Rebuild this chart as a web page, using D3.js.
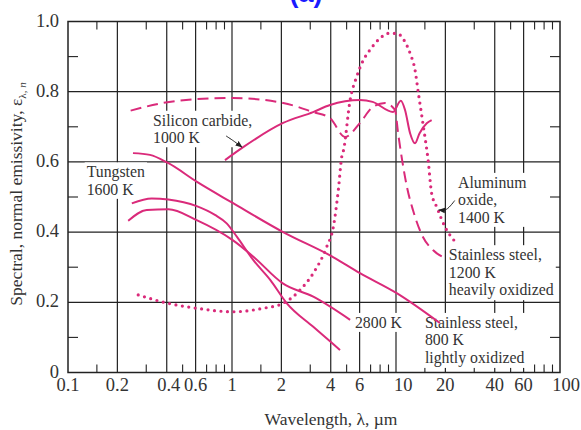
<!DOCTYPE html>
<html><head><meta charset="utf-8">
<script src="https://cdn.jsdelivr.net/npm/d3@7"></script>
<style>html,body{margin:0;padding:0;background:#fff;}svg{display:block;}</style>
</head><body>
<svg id="c" width="581" height="430"></svg>
<script>
// ---- data (wavelength in µm, spectral normal emissivity) ----
const ss800Lambda = [0.249,0.316,0.407,0.612,1.01,2.05,4.13,6.03,10.1,18.5];
const ss800Eps    = [0.625,0.62,0.597,0.543,0.483,0.40,0.329,0.283,0.226,0.141];

const w1600Lambda = [0.245,0.324,0.409,0.609,0.787,0.928,1.07,1.35,1.71,2.16,3.13,4.56];
const w1600Eps    = [0.482,0.496,0.493,0.474,0.449,0.425,0.387,0.32,0.264,0.197,0.13,0.064];

const w2800Lambda = [0.233,0.302,0.409,0.609,1.01,1.35,2.04,3.13,5.25];
const w2800Eps    = [0.432,0.463,0.465,0.434,0.377,0.33,0.254,0.216,0.15];

const sicLambda = [0.906,1.17,2.05,3.12,3.96,6.03,7.2,9.59,10.7,11.35,12.2,13.06,13.9,15.4,16.5];
const sicEps    = [0.605,0.642,0.711,0.742,0.762,0.776,0.771,0.742,0.774,0.748,0.681,0.653,0.681,0.71,0.719];

const ss1200Lambda = [0.241,0.38,0.609,1.01,2.05,3.12,3.96,4.89,6.03,7.2,8.57,9.86,10.3,10.9,11.67,12.7,14.6,16.8,19.9];
const ss1200Eps    = [0.746,0.768,0.779,0.782,0.768,0.742,0.725,0.671,0.711,0.756,0.768,0.748,0.682,0.605,0.528,0.462,0.386,0.349,0.326];

const al2o3Lambda = [0.268,0.409,0.609,1.01,1.55,2.05,2.6,3.13,3.78,4.15,4.45,4.67,4.79,5.25,5.76,6.32,6.94,7.98,8.97,10.1,11.35,12.2,13.06,13.7,14.7,15.7,16.5,17.7,19.9,22.9];
const al2o3Eps    = [0.221,0.197,0.183,0.173,0.183,0.197,0.235,0.283,0.358,0.415,0.52,0.615,0.634,0.776,0.843,0.89,0.919,0.952,0.966,0.966,0.942,0.909,0.862,0.795,0.70,0.605,0.51,0.472,0.415,0.373];

const xMajorTicks = [0.2,0.4,0.6,1,2,4,6,10,20,40,60];
const xMinorTicks = [0.15,0.3,0.5,0.7,0.8,0.9,1.5,3,5,7,8,9,15,30,50,70,80,90];
const xTickLabels = [0.1,0.2,0.4,0.6,1,2,4,6,10,20,40,60,100];
const yMajorTicks = [0.2,0.4,0.6,0.8];
const yMinorTicks = [0.1,0.3,0.5,0.7,0.9];
const yTickLabels = [0,0.2,0.4,0.6,0.8,1.0];

// ---- layout ----
const svg = d3.select("#c");
const L=68, R=560, T=21.5, B=372.5;
const x = d3.scaleLog().domain([0.1,100]).range([L,R]);
const y = d3.scaleLinear().domain([0,1]).range([B,T]);
const ink = "#222";
const col = "#da2a7a";
const serif = "'Liberation Serif','Times New Roman',serif";

const g = svg.append("g");
// grid
g.selectAll(".vx").data(xMajorTicks).join("line")
  .attr("x1",d=>x(d)).attr("x2",d=>x(d)).attr("y1",T).attr("y2",B)
  .attr("stroke",ink).attr("stroke-width",1.2);
g.selectAll(".hy").data(yMajorTicks).join("line")
  .attr("x1",L).attr("x2",R).attr("y1",d=>y(d)).attr("y2",d=>y(d))
  .attr("stroke",ink).attr("stroke-width",1.2);
// minor ticks
[[T,8],[B,-8]].forEach(([yy,len])=>{
  g.append("g").selectAll("line").data(xMinorTicks).join("line")
   .attr("x1",d=>x(d)).attr("x2",d=>x(d)).attr("y1",yy).attr("y2",yy+len)
   .attr("stroke",ink).attr("stroke-width",1.1);
});
g.append("g").selectAll("line").data(yMinorTicks).join("line")
  .attr("x1",L).attr("x2",L+10).attr("y1",d=>y(d)).attr("y2",d=>y(d))
  .attr("stroke",ink).attr("stroke-width",1.1);
g.append("g").selectAll("line").data(yMinorTicks).join("line")
  .attr("x1",R).attr("x2",R-10).attr("y1",d=>y(d)).attr("y2",d=>y(d))
  .attr("stroke",ink).attr("stroke-width",1.1);
// frame
g.append("rect").attr("x",L).attr("y",T).attr("width",R-L).attr("height",B-T)
  .attr("fill","none").attr("stroke",ink).attr("stroke-width",1.5);

// tick labels
svg.append("g").selectAll("text").data(xTickLabels).join("text")
  .attr("x",d=>d===100?566:x(d)).attr("y",391)
  .attr("text-anchor",d=>d===10?"start":"middle")
  .attr("dx",d=>d===10?-2:(d===0.4?2:0))
  .attr("font-family",serif).attr("font-size",18.5).attr("fill","#333")
  .text(d=>String(d));
svg.append("g").selectAll("text").data(yTickLabels).join("text")
  .attr("x",59).attr("y",d=>y(d)+5)
  .attr("text-anchor","end")
  .attr("font-family",serif).attr("font-size",18.5).attr("fill","#333")
  .text(d=>d===0?"0":d.toFixed(1));

// axis titles
svg.append("text").attr("x",331).attr("y",425).attr("text-anchor","middle")
  .attr("font-family",serif).attr("font-size",17.5).attr("fill","#333")
  .text("Wavelength, λ, µm");
const yt = svg.append("text").attr("transform","translate(22,194) rotate(-90)")
  .attr("text-anchor","middle").attr("font-family",serif).attr("font-size",17.5).attr("fill","#333");
yt.append("tspan").text("Spectral, normal emissivity, ε");
yt.append("tspan").attr("font-size",11).attr("dy",4).text("λ, ");
yt.append("tspan").attr("font-size",11).attr("font-style","italic").text("n");

// panel mark (cut at top edge as in the source)
svg.append("text").attr("x",306).attr("y",2).attr("text-anchor","middle")
  .attr("font-family","'Liberation Sans',Arial,sans-serif").attr("font-weight","bold")
  .attr("font-size",27).attr("fill","#1a1aff").text("(a)");

// labels with white knockouts
const labels = [
  {lam:0.33, e:0.703, lines:["Silicon carbide,","1000 K"]},
  {lam:0.13, e:0.556, lines:["Tungsten","1600 K"]},
  {lam:23.9, e:0.526, lines:["Aluminum","oxide,","1400 K"]},
  {lam:21.0, e:0.32, lines:["Stainless steel,","1200 K","heavily oxidized"]},
  {lam:5.62, e:0.127, lines:["2800 K"]},
  {lam:15.0, e:0.127, lines:["Stainless steel,","800 K","lightly oxidized"]}
];
const lg = svg.append("g");
labels.forEach(lb=>{
  const grp = lg.append("g");
  const t = grp.append("text").attr("font-family",serif).attr("font-size",15.8).attr("fill","#333");
  lb.lines.forEach((s,i)=>{
    t.append("tspan").attr("x",x(lb.lam)).attr("y",y(lb.e)+i*17.5).text(s);
  });
  const bb = t.node().getBBox();
  grp.insert("rect","text").attr("x",bb.x-2).attr("y",bb.y-1).attr("width",bb.width+4).attr("height",bb.height+2).attr("fill","#fff");
});

// curves
const line = d3.line().x(d=>x(d[0])).y(d=>y(d[1])).curve(d3.curveMonotoneX);
const zip = (a,b)=>a.map((v,i)=>[v,b[i]]);
const cg = svg.append("g").attr("fill","none").attr("stroke",col).attr("stroke-width",2);
cg.append("path").attr("d",line(zip(ss800Lambda,ss800Eps)));
cg.append("path").attr("d",line(zip(w1600Lambda,w1600Eps)));
cg.append("path").attr("d",line(zip(w2800Lambda,w2800Eps)));
cg.append("path").attr("d",line(zip(sicLambda,sicEps)));
cg.append("path").attr("d",line(zip(ss1200Lambda,ss1200Eps))).attr("stroke-dasharray","11,6");
cg.append("path").attr("d",line(zip(al2o3Lambda,al2o3Eps))).attr("stroke-dasharray","0,6.5").attr("stroke-linecap","round").attr("stroke-width",3.2);

// annotation arrows
svg.append("defs").append("marker").attr("id","ah").attr("viewBox","0 0 10 10")
  .attr("refX",9).attr("refY",5).attr("markerWidth",7).attr("markerHeight",7).attr("orient","auto")
  .append("path").attr("d","M0,1 L10,5 L0,9 Z").attr("fill","#222");
const arrowLine = d3.line().x(d=>x(d[0])).y(d=>y(d[1])).curve(d3.curveCatmullRom);
svg.append("path").attr("d",arrowLine([[0.92,0.674],[1.02,0.66],[1.15,0.642]]))
  .attr("fill","none").attr("stroke","#222").attr("stroke-width",1).attr("marker-end","url(#ah)");
svg.append("path").attr("d",arrowLine([[22.8,0.49],[20.3,0.465],[18.2,0.463]]))
  .attr("fill","none").attr("stroke","#222").attr("stroke-width",1).attr("marker-end","url(#ah)");
</script>
</body></html>
